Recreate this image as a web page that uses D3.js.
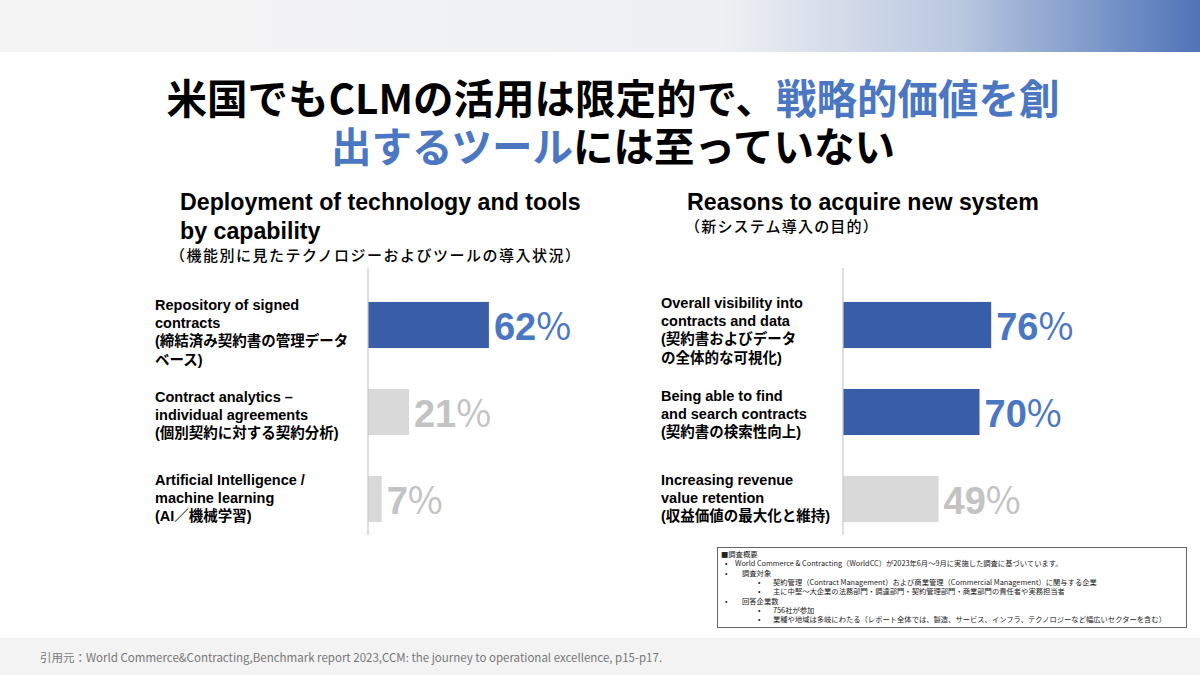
<!DOCTYPE html>
<html><head><meta charset="utf-8">
<script src="https://cdn.jsdelivr.net/npm/d3@7"></script>
<style>
html,body{margin:0;padding:0;background:#fff;}
svg{display:block;}
</style></head>
<body>
<svg id="c" width="1200" height="675"></svg>
<script>
// ---- data ----
const leftTitle = ["Deployment of technology and tools","by capability"];
const leftSub = "（機能別に見たテクノロジーおよびツールの導入状況）";
const leftCategories = ["repository","analytics","ai"];
const leftLabels = [
  ["Repository of signed","contracts","(締結済み契約書の管理データ","ベース)"],
  ["Contract analytics –","individual agreements","(個別契約に対する契約分析)"],
  ["Artificial Intelligence /","machine learning","(AI／機械学習)"]
];
const leftValues = [62,21,7];
const leftHighlight = [true,false,false];

const rightTitle = ["Reasons to acquire new system"];
const rightSub = "（新システム導入の目的）";
const rightCategories = ["visibility","search","revenue"];
const rightLabels = [
  ["Overall visibility into","contracts and data","(契約書およびデータ","の全体的な可視化)"],
  ["Being able to find","and search contracts","(契約書の検索性向上)"],
  ["Increasing revenue","value retention","(収益価値の最大化と維持)"]
];
const rightValues = [76,70,49];
const rightHighlight = [true,true,false];

const titleLine1 = [["米国でもCLMの活用は限定的で、",false],["戦略的価値を創",true]];
const titleLine2 = [["出するツール",true],["には至っていない",false]];

const noteLines = [
  [0,"■調査概要"],
  [1,"World Commerce & Contracting（WorldCC）が2023年6月～9月に実施した調査に基づいています。"],
  [2,"調査対象"],
  [3,"契約管理（Contract Management）および商業管理（Commercial Management）に関与する企業"],
  [3,"主に中堅～大企業の法務部門・調達部門・契約管理部門・商業部門の責任者や実務担当者"],
  [2,"回答企業数"],
  [3,"756社が参加"],
  [3,"業種や地域は多岐にわたる（レポート全体では、製造、サービス、インフラ、テクノロジーなど幅広いセクターを含む）"]
];
const sourceText = "引用元：World Commerce&Contracting,Benchmark report 2023,CCM: the journey to operational excellence, p15-p17.";

// ---- styles ----
const FONT = "'Liberation Sans', Arial, 'Noto Sans CJK JP', sans-serif";
const JP = "'Noto Sans CJK JP', 'Noto Sans', sans-serif";
const BLUE_BAR = "#3A5DA8", BLUE_TXT = "#4A76C2", GRAY_BAR = "#D9D9D9", GRAY_TXT = "#C3C3C3";

const svg = d3.select("#c");
const defs = svg.append("defs");
const grad = defs.append("linearGradient").attr("id","topg").attr("x1","0").attr("x2","1");
grad.append("stop").attr("offset","0").attr("stop-color","#f4f4f4");
grad.append("stop").attr("offset","0.6").attr("stop-color","#eff0f3");
grad.append("stop").attr("offset","0.8").attr("stop-color","#b9c7e0");
grad.append("stop").attr("offset","1").attr("stop-color","#4f74b8");
svg.append("rect").attr("x",0).attr("y",0).attr("width",1200).attr("height",52).attr("fill","url(#topg)");
svg.append("rect").attr("x",0).attr("y",638).attr("width",1200).attr("height",37).attr("fill","#f3f3f3");

// title
function titleLine(parts, y){
  const t = svg.append("text").attr("x",613).attr("y",y).attr("text-anchor","middle")
    .attr("font-family",JP).attr("font-weight",700).attr("font-size",40.5);
  parts.forEach(p=>t.append("tspan").text(p[0]).attr("fill",p[1]?BLUE_TXT:"#000"));
}
titleLine(titleLine1,114);
titleLine(titleLine2,162);

// charts
const xScale = d3.scaleLinear().domain([0,100]).range([0,195]);
const yScale = d3.scaleBand().range([281.5,542.5]).paddingInner(0.47).paddingOuter(0.235);

function chart(cfg){
  const g = svg.append("g");
  // headings
  cfg.title.forEach((t,i)=>g.append("text").attr("x",cfg.tx).attr("y",210+i*29)
    .attr("font-family",FONT).attr("font-weight",700).attr("font-size",23.2).attr("fill","#000").text(t));
  g.append("text").attr("x",cfg.sx).attr("y",cfg.sy).attr("font-family",JP).attr("font-weight",500)
    .attr("font-size",15).attr("letter-spacing",cfg.ls).attr("fill","#000").text(cfg.sub);

  const y = yScale.copy().domain(cfg.cats);
  const x0 = cfg.axisX;
  cfg.cats.forEach((c,i)=>{
    const v = cfg.values[i], hl = cfg.hl[i];
    const by = y(c), bh = y.bandwidth();
    g.append("rect").attr("x",x0).attr("y",by).attr("width",xScale(v)).attr("height",bh)
      .attr("fill",hl?BLUE_BAR:GRAY_BAR);
    const vt = g.append("text").attr("x",x0+xScale(v)+5).attr("y",by+bh/2+15)
      .attr("font-family",FONT).attr("font-weight",700).attr("font-size",38).attr("fill",hl?BLUE_TXT:GRAY_TXT);
    vt.append("tspan").text(v);
    vt.append("tspan").text("%").attr("font-family",JP).attr("font-weight",400).attr("dx",0);
    const lines = cfg.labels[i];
    const top = cfg.labelTop[i];
    lines.forEach((l,j)=>g.append("text").attr("x",cfg.lx)
      .attr("y",top+j*18.2+5)
      .attr("font-family",FONT).attr("font-weight",700).attr("font-size",14.5).attr("fill","#000").text(l));
  });
  g.append("line").attr("x1",x0).attr("x2",x0).attr("y1",268).attr("y2",535)
    .attr("stroke","#c8c8c8").attr("stroke-width",1.2);
}
chart({title:leftTitle, sub:leftSub, tx:180, sx:170, sy:261, ls:1.5, cats:leftCategories, values:leftValues,
  hl:leftHighlight, labels:leftLabels, axisX:368, lx:155, labelTop:[305,397,480]});
chart({title:rightTitle, sub:rightSub, tx:687, sx:685, sy:232, ls:1.2, cats:rightCategories, values:rightValues,
  hl:rightHighlight, labels:rightLabels, axisX:843, lx:661, labelTop:[303,396,480]});

// note box
svg.append("rect").attr("x",717.5).attr("y",547.5).attr("width",469).attr("height",80)
  .attr("fill","#fff").attr("stroke","#666").attr("stroke-width",1);
const indent = {0:[null,721],1:[725,735],2:[725,742],3:[758,773]};
noteLines.forEach((n,i)=>{
  const yy = 557+i*9.3;
  const [bx,tx] = indent[n[0]];
  if(bx!==null) svg.append("text").attr("x",bx).attr("y",yy).attr("font-family",JP).attr("font-size",7.3)
    .attr("fill","#222").text("•");
  svg.append("text").attr("x",tx).attr("y",yy).attr("font-family",JP).attr("font-size",7.3)
    .attr("fill","#222").text(n[1]);
});

// source
svg.append("text").attr("x",40).attr("y",662).attr("font-family","'Noto Sans CJK JP', sans-serif")
  .attr("font-size",11.5).attr("fill","#777").text(sourceText);
</script>
</body></html>
